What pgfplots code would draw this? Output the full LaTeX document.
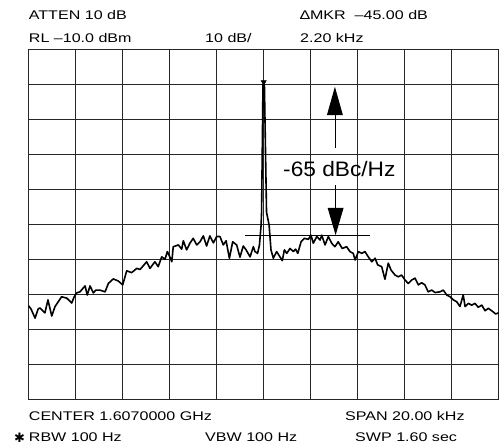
\documentclass[border=0pt]{standalone}
\usepackage{pgfplots}
\pgfplotsset{compat=1.18}
\usepackage{graphicx}
\usepackage{fontspec}
\setmainfont{Liberation Sans}
\newfontfamily\symfont{DejaVu Sans}

\pgfplotstableread{
f L
-10.00 -83.3
-9.90 -84.2
-9.73 -86.8
-9.60 -84.2
-9.52 -83.9
-9.39 -84.8
-9.31 -85.3
-9.18 -81.6
-9.02 -86.2
-8.88 -83.5
-8.75 -82.2
-8.60 -80.7
-8.38 -81.1
-8.17 -82.5
-8.07 -80.8
-7.96 -79.6
-7.82 -79.3
-7.60 -77.6
-7.51 -80.2
-7.39 -77.6
-7.25 -79.6
-7.14 -78.8
-6.97 -78.8
-6.75 -79.3
-6.61 -76.9
-6.40 -75.6
-6.19 -76.2
-6.00 -77.3
-5.83 -73.3
-5.62 -73.8
-5.40 -72.6
-5.26 -72.9
-4.98 -70.7
-4.84 -72.6
-4.63 -70.7
-4.49 -72.1
-4.34 -69.3
-4.20 -70.0
-4.10 -67.8
-3.99 -69.4
-3.91 -70.7
-3.85 -66.4
-3.63 -65.9
-3.49 -67.1
-3.42 -64.7
-3.28 -67.3
-3.14 -65.4
-3.00 -64.0
-2.85 -65.9
-2.71 -65.0
-2.57 -63.3
-2.43 -66.2
-2.29 -63.3
-2.14 -65.3
-2.00 -63.5
-1.86 -63.5
-1.72 -65.9
-1.60 -64.7
-1.46 -69.7
-1.32 -65.0
-1.15 -65.9
-1.01 -69.4
-0.87 -66.2
-0.75 -67.3
-0.58 -69.3
-0.44 -66.4
-0.37 -67.8
-0.26 -68.3
-0.18 -65.9
-0.11 -60.2
-0.09 -56.5
-0.03 -20.0
0.03 -20.0
0.12 -56.5
0.23 -60.2
0.31 -67.3
0.41 -69.7
0.55 -67.8
0.69 -69.3
0.79 -70.4
0.88 -67.3
0.98 -68.3
1.12 -66.9
1.26 -67.8
1.36 -67.1
1.45 -68.3
1.59 -65.0
1.73 -64.0
1.90 -64.3
2.01 -63.1
2.11 -65.4
2.26 -63.5
2.40 -64.5
2.47 -63.1
2.61 -65.9
2.75 -63.5
2.89 -65.4
3.03 -66.4
3.17 -65.0
3.34 -66.9
3.53 -66.4
3.67 -67.8
3.81 -68.3
3.89 -70.2
4.03 -67.8
4.17 -68.3
4.31 -67.8
4.45 -69.3
4.60 -70.7
4.74 -69.7
4.85 -71.6
5.02 -72.1
5.16 -75.7
5.30 -71.1
5.42 -73.1
5.59 -74.5
5.73 -75.0
5.87 -74.5
6.01 -75.9
6.15 -76.9
6.30 -75.9
6.44 -75.4
6.58 -77.3
6.72 -76.7
6.86 -77.3
7.00 -79.3
7.15 -78.8
7.29 -79.5
7.50 -79.3
7.64 -78.8
7.79 -80.2
7.93 -80.7
8.07 -81.6
8.21 -82.1
8.35 -83.5
8.49 -80.2
8.57 -83.5
8.71 -82.6
8.85 -83.1
8.99 -82.6
9.13 -83.7
9.28 -83.1
9.42 -84.7
9.56 -84.0
9.70 -84.7
9.87 -85.6
10.00 -85.3
}\trace

\newcommand{\lbl}[1]{\scalebox{1.28}[1]{\fontsize{12.6}{14}\selectfont #1}}

\begin{document}
\begin{tikzpicture}
\useasboundingbox (0,0) rectangle (499bp,447bp);
\begin{axis}[
  at={(28.7bp,47.7bp)}, anchor=south west,
  scale only axis, width=470bp, height=350bp,
  xmin=-10, xmax=10, ymin=-110, ymax=-10,
  xtick={-10,-8,...,10}, ytick={-110,-100,...,-10},
  xticklabels={}, yticklabels={},
  major tick length=0pt,
  grid=major,
  grid style={black!85, line width=0.9bp},
  axis line style={black!85, line width=0.9bp},
  clip=false,
]
\addplot[black, line width=1.6bp, line join=round] table[x=f, y=L] {\trace};
\addplot[only marks, mark=triangle*, mark size=3bp, mark options={rotate=180, fill=black, draw=black}] coordinates {(0,-19.4)};
% reference line
\draw[black, line width=0.8bp] (axis cs:-0.80,-63.3) -- (axis cs:4.52,-63.3);
% up arrow
\draw[black, line width=0.8bp] (axis cs:3.03,-28.8) -- (axis cs:3.03,-38.2);
\fill[black] (axis cs:2.69,-28.8) -- (axis cs:3.03,-20.7) -- (axis cs:3.37,-28.8) -- cycle;
% down arrow
\draw[black, line width=0.8bp] (axis cs:3.06,-48.8) -- (axis cs:3.06,-55.3);
\fill[black] (axis cs:2.72,-55.3) -- (axis cs:3.06,-63.1) -- (axis cs:3.40,-55.3) -- cycle;
\node[inner sep=0] at (axis cs:3.22,-44.3) {\scalebox{1.085}[1]{\fontsize{21}{24}\selectfont -65 dBc/Hz}};
\end{axis}
\node[anchor=base west, inner sep=0] at (28.7bp,427bp) {\lbl{ATTEN 10 dB}};
\node[anchor=base west, inner sep=0] at (28.7bp,404.7bp) {\lbl{RL –10.0 dBm}};
\node[anchor=base west, inner sep=0] at (205bp,404.7bp) {\lbl{10 dB/}};
\node[anchor=base west, inner sep=0] at (300bp,427bp) {\lbl{∆MKR \ –45.00 dB}};
\node[anchor=base west, inner sep=0] at (300bp,404.7bp) {\lbl{2.20 kHz}};
\node[anchor=base west, inner sep=0] at (28.7bp,27bp) {\lbl{CENTER 1.6070000 GHz}};
\node[anchor=base west, inner sep=0] at (345bp,27bp) {\lbl{SPAN 20.00 kHz}};
\node[anchor=base west, inner sep=0] at (28.7bp,5.3bp) {\lbl{RBW 100 Hz}};
\node[anchor=base west, inner sep=0] at (205bp,5.3bp) {\lbl{VBW 100 Hz}};
\node[anchor=base west, inner sep=0] at (355bp,5.3bp) {\lbl{SWP 1.60 sec}};
\node[inner sep=0] at (19.5bp,9bp) {\symfont\fontsize{13}{14}\selectfont ✱};
\end{tikzpicture}
\end{document}
